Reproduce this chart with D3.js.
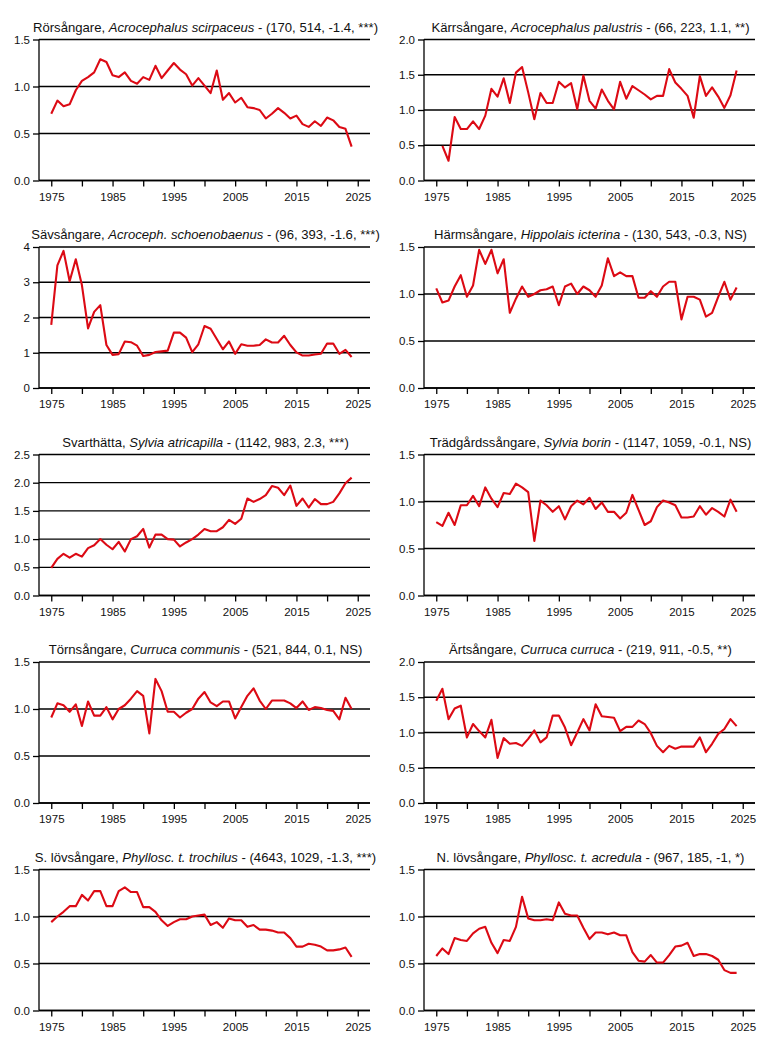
<!DOCTYPE html>
<html>
<head>
<meta charset="utf-8">
<script src="https://cdn.jsdelivr.net/npm/d3@7"></script>
<style>
  body { margin: 0; background: #fff; }
  svg { display: block; font-family: "Liberation Sans", Arial, sans-serif; }
  .tick text { fill: #111; }
</style>
</head>
<body>
<svg id="chart" width="769" height="1038"></svg>
<script>
var years = [1975,1976,1977,1978,1979,1980,1981,1982,1983,1984,1985,1986,1987,1988,1989,1990,1991,1992,1993,1994,
  1995,1996,1997,1998,1999,2000,2001,2002,2003,2004,2005,2006,2007,2008,2009,2010,2011,2012,2013,2014,
  2015,2016,2017,2018,2019,2020,2021,2022,2023,2024];

var xTicks = [1975,1980,1985,1990,1995,2000,2005,2010,2015,2020,2025];
var xLabels = [1975,1985,1995,2005,2015,2025];

var commonNames = ["Rörsångare", "Kärrsångare", "Sävsångare", "Härmsångare", "Svarthätta",
  "Trädgårdssångare", "Törnsångare", "Ärtsångare", "S. lövsångare", "N. lövsångare"];
var latinNames = ["Acrocephalus scirpaceus", "Acrocephalus palustris", "Acroceph. schoenobaenus", "Hippolais icterina",
  "Sylvia atricapilla", "Sylvia borin", "Curruca communis", "Curruca curruca", "Phyllosc. t. trochilus", "Phyllosc. t. acredula"];
var stats = ["(170, 514, -1.4, ***)", "(66, 223, 1.1, **)", "(96, 393, -1.6, ***)", "(130, 543, -0.3, NS)",
  "(1142, 983, 2.3, ***)", "(1147, 1059, -0.1, NS)", "(521, 844, 0.1, NS)", "(219, 911, -0.5, **)",
  "(4643, 1029, -1.3, ***)", "(967, 185, -1, *)"];

var yMax = [1.5, 2.0, 4, 1.5, 2.5, 1.5, 1.5, 2.0, 1.5, 1.5];
var yTicks = [
  [0, 0.5, 1.0, 1.5], [0, 0.5, 1.0, 1.5, 2.0], [0, 1, 2, 3, 4], [0, 0.5, 1.0, 1.5], [0, 0.5, 1.0, 1.5, 2.0, 2.5],
  [0, 0.5, 1.0, 1.5], [0, 0.5, 1.0, 1.5], [0, 0.5, 1.0, 1.5, 2.0], [0, 0.5, 1.0, 1.5], [0, 0.5, 1.0, 1.5]
];

var rorsangare = [0.71,0.85,0.79,0.81,0.96,1.06,1.10,1.15,1.29,1.26,1.12,1.10,1.15,1.06,1.03,1.10,1.07,1.22,1.09,1.17,
  1.25,1.18,1.13,1.01,1.09,1.01,0.93,1.17,0.86,0.93,0.83,0.88,0.78,0.77,0.75,0.66,0.71,0.77,0.72,0.66,
  0.69,0.60,0.57,0.63,0.58,0.67,0.64,0.57,0.55,0.36];
var karrsangare = [null,0.49,0.28,0.90,0.73,0.73,0.84,0.73,0.92,1.30,1.19,1.45,1.10,1.53,1.61,1.25,0.87,1.24,1.10,1.10,
  1.40,1.32,1.38,1.01,1.49,1.13,1.02,1.29,1.13,1.01,1.40,1.16,1.34,1.28,1.22,1.15,1.20,1.20,1.58,1.39,
  1.30,1.20,0.89,1.48,1.20,1.32,1.19,1.03,1.21,1.56];
var savsangare = [1.79,3.48,3.89,3.03,3.65,2.92,1.69,2.16,2.35,1.22,0.94,0.96,1.32,1.30,1.20,0.91,0.94,1.02,1.04,1.06,
  1.57,1.57,1.43,1.02,1.24,1.76,1.68,1.39,1.10,1.32,0.97,1.24,1.20,1.20,1.22,1.38,1.29,1.29,1.48,1.22,
  1.01,0.92,0.92,0.95,0.97,1.26,1.26,0.97,1.08,0.88];
var harmsangare = [1.06,0.91,0.93,1.08,1.20,0.97,1.09,1.47,1.32,1.47,1.22,1.37,0.80,0.95,1.08,0.97,1.00,1.04,1.05,1.08,
  0.88,1.08,1.11,1.00,1.08,1.04,0.97,1.09,1.38,1.19,1.23,1.19,1.19,0.96,0.96,1.03,0.97,1.08,1.13,1.13,
  0.73,0.97,0.97,0.94,0.76,0.80,0.97,1.13,0.94,1.07];
var svarthatta = [0.49,0.65,0.74,0.67,0.74,0.69,0.84,0.89,1.00,0.90,0.82,0.95,0.78,1.00,1.05,1.18,0.85,1.08,1.08,1.00,
  0.99,0.87,0.94,1.00,1.08,1.18,1.14,1.14,1.21,1.34,1.27,1.36,1.72,1.66,1.71,1.78,1.94,1.91,1.78,1.95,
  1.59,1.72,1.56,1.71,1.62,1.62,1.66,1.81,1.99,2.09];
var tradgardssangare = [0.78,0.74,0.88,0.75,0.96,0.96,1.06,0.95,1.15,1.03,0.94,1.09,1.08,1.19,1.15,1.10,0.58,1.01,0.96,0.89,
  0.95,0.81,0.95,1.01,0.97,1.04,0.92,0.99,0.89,0.89,0.82,0.88,1.07,0.91,0.75,0.79,0.94,1.01,0.99,0.96,
  0.83,0.83,0.84,0.95,0.86,0.93,0.89,0.84,1.02,0.89];
var tornsangare = [0.91,1.06,1.04,0.97,1.05,0.82,1.08,0.93,0.93,1.02,0.89,1.00,1.04,1.11,1.19,1.14,0.74,1.32,1.19,0.97,
  0.97,0.91,0.96,1.00,1.11,1.18,1.07,1.03,1.08,1.08,0.90,1.02,1.14,1.22,1.09,1.00,1.09,1.09,1.09,1.06,
  1.01,1.08,0.99,1.02,1.01,0.99,0.98,0.89,1.12,1.00];
var artsangare = [1.45,1.62,1.19,1.34,1.38,0.93,1.12,1.02,0.93,1.18,0.64,0.92,0.84,0.85,0.81,0.91,1.03,0.86,0.93,1.24,
  1.24,1.07,0.82,1.00,1.19,1.03,1.40,1.23,1.22,1.21,1.02,1.08,1.08,1.17,1.12,0.99,0.81,0.72,0.81,0.77,
  0.80,0.80,0.80,0.93,0.72,0.84,0.98,1.05,1.19,1.09];
var sLovsangare = [0.94,1.00,1.05,1.11,1.11,1.23,1.17,1.27,1.27,1.11,1.11,1.27,1.31,1.26,1.26,1.10,1.10,1.05,0.96,0.90,
  0.94,0.97,0.97,1.00,1.01,1.02,0.91,0.94,0.88,0.98,0.96,0.96,0.89,0.91,0.86,0.86,0.85,0.83,0.83,0.77,
  0.68,0.68,0.71,0.70,0.68,0.64,0.64,0.65,0.67,0.57];
var nLovsangare = [0.58,0.66,0.60,0.77,0.75,0.74,0.82,0.87,0.89,0.72,0.61,0.75,0.74,0.89,1.21,0.98,0.96,0.96,0.97,0.96,
  1.15,1.03,1.01,1.01,0.88,0.76,0.83,0.83,0.81,0.83,0.80,0.80,0.62,0.53,0.52,0.59,0.51,0.51,0.59,0.68,
  0.69,0.72,0.58,0.60,0.60,0.58,0.54,0.43,0.40,0.40];

var series = [rorsangare, karrsangare, savsangare, harmsangare, svarthatta,
  tradgardssangare, tornsangare, artsangare, sLovsangare, nLovsangare];

var svg = d3.select("#chart");
var colLeft = [39, 424],
    plotW = 331,
    plotH = 141,
    top0 = 39.5,
    rowStep = 207.5;

var makePanel = function(i) {
    var col = i % 2, row = Math.floor(i / 2);
    var g = svg.append("g")
        .attr("transform", "translate(" + colLeft[col] + "," + (top0 + row * rowStep) + ")");

    var x = d3.scaleLinear().domain([1973, 2027]).range([0, plotW]);
    var y = d3.scaleLinear().domain([0, yMax[i]]).range([plotH, 0]);
    var fmt = yMax[i] === 4 ? d3.format("d") : d3.format(".1f");

    // horizontal reference lines at every y tick
    g.selectAll("line.grid")
        .data(yTicks[i])
      .enter().append("line")
        .attr("class", "grid")
        .attr("x1", 0).attr("x2", plotW)
        .attr("y1", function(d) { return y(d); })
        .attr("y2", function(d) { return y(d); })
        .attr("stroke", "#000")
        .attr("stroke-width", 1.3);

    var yAxis = g.append("g")
        .call(d3.axisLeft(y).tickValues(yTicks[i]).tickFormat(fmt).tickSize(6).tickPadding(3).tickSizeOuter(0));
    var xAxis = g.append("g")
        .attr("transform", "translate(0," + plotH + ")")
        .call(d3.axisBottom(x).tickValues(xTicks).tickSize(6).tickPadding(6).tickSizeOuter(0)
          .tickFormat(function(d) { return xLabels.indexOf(d) >= 0 ? d : ""; }));
    [yAxis, xAxis].forEach(function(a) {
        a.attr("font-size", 11.5).attr("font-family", null);
        a.selectAll("path, line").attr("stroke", "#000").attr("stroke-width", 1.3);
    });
    xAxis.select(".domain").attr("d", "M0,0H" + plotW);
    yAxis.select(".domain").attr("d", "M0," + plotH + "V0");

    var line = d3.line()
        .defined(function(d) { return d != null; })
        .x(function(d, k) { return x(years[k]); })
        .y(function(d) { return y(d); });
    g.append("path")
        .datum(series[i])
        .attr("d", line)
        .attr("fill", "none")
        .attr("stroke", "#dc0a14")
        .attr("stroke-width", 2.1)
        .attr("stroke-linejoin", "round");

    var title = g.append("text")
        .attr("x", plotW / 2 + 1)
        .attr("y", -8)
        .attr("text-anchor", "middle")
        .attr("font-size", 13.1)
        .attr("fill", "#111");
    title.append("tspan").text(commonNames[i] + ", ");
    title.append("tspan").attr("font-style", "italic").text(latinNames[i]);
    title.append("tspan").text(" - " + stats[i]);
};

d3.range(series.length).forEach(makePanel);
</script>
</body>
</html>
